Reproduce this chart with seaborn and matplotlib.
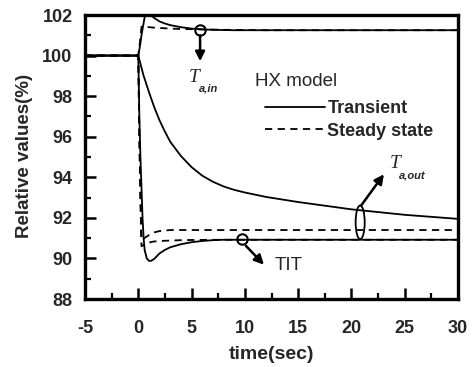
import numpy as np
import pandas as pd
import matplotlib
matplotlib.use("Agg")
import matplotlib.pyplot as plt
from matplotlib.ticker import MultipleLocator
from matplotlib.patches import Ellipse
import seaborn as sns

# --- data -------------------------------------------------------------
t_tr = [-5, 0, 0.1, 0.2, 0.3, 0.4, 0.5, 0.6, 0.8, 1.0, 1.2, 1.5, 2, 2.5, 3, 4,
        5, 6, 7, 8, 9, 10, 12, 15, 20, 25, 30]
ta_in_tr = [100, 100, 100.3, 100.6, 101.0, 101.3, 101.6, 101.9, 102.1, 102.05,
            101.98, 101.85, 101.68, 101.58, 101.5, 101.4, 101.33, 101.29,
            101.27, 101.26, 101.25, 101.25, 101.25, 101.25, 101.25, 101.25,
            101.25]
ta_out_tr = [100, 100, 99.8, 99.6, 99.4, 99.2, 99.0, 98.85, 98.52, 98.2, 97.9,
             97.45, 96.8, 96.25, 95.75, 95.05, 94.5, 94.08, 93.78, 93.55,
             93.38, 93.25, 93.03, 92.78, 92.42, 92.15, 91.95]
tit_tr = [100, 100, 97.0, 95.0, 93.5, 92.0, 91.0, 90.4, 90.0, 89.88, 89.88,
          89.98, 90.25, 90.42, 90.55, 90.7, 90.8, 90.86, 90.9, 90.92, 90.92,
          90.92, 90.92, 90.92, 90.92, 90.92, 90.92]

t_ss = [-5, 0, 0.1, 0.2, 0.3, 0.7, 1.0, 1.4, 2, 3, 4, 5, 8, 12, 20, 30]
ta_in_ss = [100, 100, 100.4, 100.9, 101.42, 101.42, 101.4, 101.38, 101.36,
            101.33, 101.31, 101.3, 101.27, 101.25, 101.25, 101.25]
ta_out_ss = [100, 100, 96.0, 93.0, 90.9, 91.05, 91.15, 91.27, 91.35, 91.4,
             91.4, 91.4, 91.4, 91.4, 91.4, 91.4]
tit_ss = [100, 100, 96.0, 93.0, 90.6, 90.72, 90.78, 90.83, 90.86, 90.88,
          90.9, 90.91, 90.92, 90.92, 90.92, 90.92]

x_ticks = [-5, 0, 5, 10, 15, 20, 25, 30]
y_ticks = [88, 90, 92, 94, 96, 98, 100, 102]

series = [
    ("Ta,in", "Transient", t_tr, ta_in_tr),
    ("Ta,out", "Transient", t_tr, ta_out_tr),
    ("TIT", "Transient", t_tr, tit_tr),
    ("Ta,in", "Steady state", t_ss, ta_in_ss),
    ("Ta,out", "Steady state", t_ss, ta_out_ss),
    ("TIT", "Steady state", t_ss, tit_ss),
]
df = pd.concat(
    [pd.DataFrame({"time": t, "value": v, "quantity": q, "HX model": m,
                   "run": f"{q}-{m}"})
     for q, m, t, v in series],
    ignore_index=True,
)

# --- style -------------------------------------------------------------
sns.set_style("ticks")
plt.rcParams["font.family"] = ["Liberation Sans", "DejaVu Sans"]
plt.rcParams["axes.unicode_minus"] = False

W, H = 473, 367
fig = plt.figure(figsize=(W / 100, H / 100), dpi=100)
L, R, T, B = 85, 458, 15, 299
ax = fig.add_axes([L / W, 1 - B / H, (R - L) / W, (B - T) / H])

sns.lineplot(data=df, x="time", y="value", units="run", estimator=None,
             style="HX model", style_order=["Transient", "Steady state"],
             dashes={"Transient": "", "Steady state": (4, 3)},
             color="black", lw=1.3, sort=False, ax=ax, legend=True)

ax.set_xlim(-5, 30)
ax.set_ylim(88, 102)
ax.set_xticks(x_ticks)
ax.set_yticks(y_ticks)
ax.xaxis.set_minor_locator(MultipleLocator(2.5))
ax.yaxis.set_minor_locator(MultipleLocator(1))
ax.tick_params(which="both", direction="in", top=False, right=False,
               color="black")
ax.tick_params(which="major", length=8, width=1.8)
ax.tick_params(which="minor", length=4.5, width=1.6)
ax.tick_params(axis="y", which="major", pad=9)
ax.tick_params(axis="x", which="major", pad=15)
for lab in ax.get_xticklabels() + ax.get_yticklabels():
    lab.set_fontsize(13)
    lab.set_fontweight("bold")
for sp in ax.spines.values():
    sp.set_linewidth(2.4)
    sp.set_color("black")

ax.set_xlabel("time(sec)", fontsize=14, fontweight="bold")
ax.set_ylabel("Relative values(%)", fontsize=13.5, fontweight="bold")
ax.xaxis.set_label_coords(0.5, -0.165)
ax.yaxis.set_label_coords(-0.14, 0.505)

# legend
handles, labels = ax.get_legend_handles_labels()
pairs = [(h, l) for h, l in zip(handles, labels) if l in ("Transient", "Steady state")]
ax.legend([p[0] for p in pairs], [p[1] for p in pairs],
          loc="upper left", bbox_to_anchor=(0.4826, 0.70), frameon=False,
          borderpad=0, borderaxespad=0, handlelength=3.3, handletextpad=0.15,
          labelspacing=0.3, prop={"size": 13, "weight": "bold"})
ax.text(0.4558, 0.765, "HX model", transform=ax.transAxes, fontsize=13.5,
        ha="left", va="center")

# T_a,in marker and label
ax.plot([5.8], [101.25], marker="o", ms=7.5, mfc="none", mec="black", mew=1.5)
ax.annotate("", xy=(5.8, 99.72), xytext=(5.8, 101.0),
            arrowprops=dict(arrowstyle="-|>", lw=1.8, color="black",
                            mutation_scale=14, shrinkA=0, shrinkB=0))
ax.text(5.27, 98.93, "T", fontsize=14, family="Liberation Serif",
        style="italic", ha="center", va="center")
ax.text(6.63, 98.39, "a,in", fontsize=8, fontweight="bold", style="italic",
        ha="center", va="center")

# T_a,out bracket and label
ax.add_patch(Ellipse((20.82, 91.78), width=0.85, height=1.66, fill=False,
                     lw=1.3, ec="black"))
ax.annotate("", xy=(23.05, 94.15), xytext=(20.9, 92.6),
            arrowprops=dict(arrowstyle="-|>", lw=1.8, color="black",
                            mutation_scale=14, shrinkA=0, shrinkB=0))
ax.text(24.08, 94.68, "T", fontsize=14, family="Liberation Serif",
        style="italic", ha="center", va="center")
ax.text(25.75, 94.03, "a,out", fontsize=8, fontweight="bold", style="italic",
        ha="center", va="center")

# TIT marker and label
ax.plot([9.72], [90.94], marker="o", ms=7.5, mfc="none", mec="black", mew=1.5)
ax.annotate("", xy=(11.79, 89.69), xytext=(10.1, 90.62),
            arrowprops=dict(arrowstyle="-|>", lw=1.8, color="black",
                            mutation_scale=14, shrinkA=0, shrinkB=0))
ax.text(14.11, 89.66, "TIT", fontsize=13.5, ha="center", va="center")

fig.savefig("out.png", dpi=100)
